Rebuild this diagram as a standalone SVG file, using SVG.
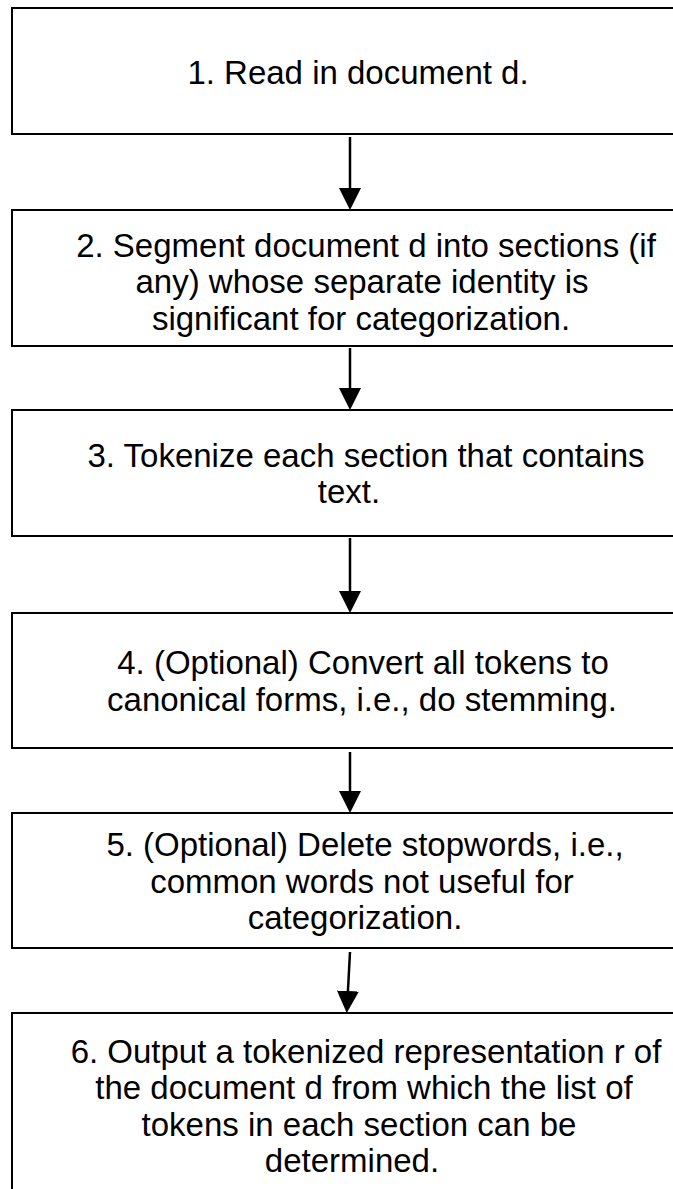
<svg xmlns="http://www.w3.org/2000/svg" width="673" height="1189" viewBox="0 0 673 1189">
<style>
.box{fill:#fff;stroke:#000;stroke-width:2}
.t{font-family:"Liberation Sans",Arial,sans-serif;font-size:33px;fill:#000;text-anchor:middle}
.c{stroke:#000;stroke-width:2.5;fill:none}
</style>
<defs>
<marker id="ah" viewBox="0 0 22 22" markerWidth="22" markerHeight="22" markerUnits="userSpaceOnUse" refX="10" refY="11" orient="auto">
<path d="M0,0 L22,11 L0,22 z" fill="#000"/>
</marker>
</defs>
<rect width="673" height="1189" fill="#fff"/>
<g id="n1">
<rect class="box" x="12" y="8" width="690" height="126"/>
<text class="t" x="358" y="84">1. Read in document d.</text>
</g>
<g id="n2">
<rect class="box" x="12" y="210" width="690" height="136"/>
<text class="t" x="366" y="257">2. Segment document d into sections (if</text>
<text class="t" x="362" y="293">any) whose separate identity is</text>
<text class="t" x="361" y="330">significant for categorization.</text>
</g>
<g id="n3">
<rect class="box" x="12" y="410" width="690" height="126"/>
<text class="t" x="366" y="467">3. Tokenize each section that contains</text>
<text class="t" x="349" y="503">text.</text>
</g>
<g id="n4">
<rect class="box" x="12" y="613" width="690" height="135"/>
<text class="t" x="363" y="674">4. (Optional) Convert all tokens to</text>
<text class="t" x="362" y="711">canonical forms, i.e., do stemming.</text>
</g>
<g id="n5">
<rect class="box" x="12" y="813" width="690" height="135"/>
<text class="t" x="365" y="856">5. (Optional) Delete stopwords, i.e.,</text>
<text class="t" x="362" y="893">common words not useful for</text>
<text class="t" x="355" y="929">categorization.</text>
</g>
<g id="n6">
<rect class="box" x="12" y="1013" width="690" height="200"/>
<text class="t" x="366" y="1063">6. Output a tokenized representation r of</text>
<text class="t" x="364" y="1099">the document d from which the list of</text>
<text class="t" x="359" y="1136">tokens in each section can be</text>
<text class="t" x="352" y="1172">determined.</text>
</g>
<g id="connectors">
<line class="c" x1="350" y1="137" x2="350" y2="198" marker-end="url(#ah)"/>
<line class="c" x1="350" y1="348" x2="350" y2="398" marker-end="url(#ah)"/>
<line class="c" x1="350" y1="538" x2="350" y2="601" marker-end="url(#ah)"/>
<line class="c" x1="350" y1="752" x2="350" y2="801" marker-end="url(#ah)"/>
<line class="c" x1="350" y1="952" x2="347.4" y2="1001" marker-end="url(#ah)"/>
</g>
</svg>
